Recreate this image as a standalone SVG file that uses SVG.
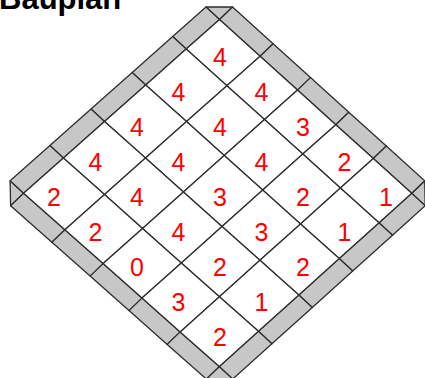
<svg xmlns="http://www.w3.org/2000/svg" width="425" height="378" viewBox="0 0 425 378">
<style>
.wall{fill:#c6c7c6;stroke:#2e2e2e;stroke-width:1.3;stroke-linejoin:round}
.cell polygon{fill:#ffffff;stroke:#2e2e2e;stroke-width:1.3;stroke-linejoin:round}
.cell text{font-family:"Liberation Sans",Arial,sans-serif;font-size:25px;fill:#ff0000;text-anchor:middle}
.title{font-family:"Liberation Sans",Arial,sans-serif;font-size:31px;font-weight:bold;fill:#000}
</style>
<rect width="425" height="378" fill="#ffffff"/>
<text class="title" x="-1" y="9">Bauplan</text>
<g id="walls">
<polygon class="wall" points="219.5,19.5 206,7 232.5,7"/>
<polygon class="wall" points="23.6,193.3 10.1,180.8 10.6,205.8"/>
<polygon class="wall" points="411.7,193.3 424.7,180.8 425.2,205.8"/>
<polygon class="wall" points="219.3,366.5 206.3,379 232.8,379"/>
<polygon class="wall" points="219.5,19.5 186.2,49.1 172.7,36.6 206,7"/>
<polygon class="wall" points="186.2,49.1 145.7,85.0 132.2,72.5 172.7,36.6"/>
<polygon class="wall" points="145.7,85.0 104.5,121.5 91,109 132.2,72.5"/>
<polygon class="wall" points="104.5,121.5 63.4,158.0 49.9,145.5 91,109"/>
<polygon class="wall" points="63.4,158.0 23.6,193.3 10.1,180.8 49.9,145.5"/>
<polygon class="wall" points="219.5,19.5 260.1,56.2 273.1,43.7 232.5,7"/>
<polygon class="wall" points="260.1,56.2 297.5,90.1 310.5,77.6 273.1,43.7"/>
<polygon class="wall" points="297.5,90.1 335.8,124.7 348.8,112.2 310.5,77.6"/>
<polygon class="wall" points="335.8,124.7 373.3,158.5 386.3,146 348.8,112.2"/>
<polygon class="wall" points="373.3,158.5 411.7,193.3 424.7,180.8 386.3,146"/>
<polygon class="wall" points="23.6,193.3 64.9,229.8 51.9,242.3 10.6,205.8"/>
<polygon class="wall" points="64.9,229.8 103.1,263.6 90.1,276.1 51.9,242.3"/>
<polygon class="wall" points="103.1,263.6 142.0,298.1 129,310.6 90.1,276.1"/>
<polygon class="wall" points="142.0,298.1 180.2,331.9 167.2,344.4 129,310.6"/>
<polygon class="wall" points="180.2,331.9 219.3,366.5 206.3,379 167.2,344.4"/>
<polygon class="wall" points="411.7,193.3 379.0,222.8 392.5,235.3 425.2,205.8"/>
<polygon class="wall" points="379.0,222.8 339.2,258.6 352.7,271.1 392.5,235.3"/>
<polygon class="wall" points="339.2,258.6 298.8,295.0 312.3,307.5 352.7,271.1"/>
<polygon class="wall" points="298.8,295.0 258.4,331.3 271.9,343.8 312.3,307.5"/>
<polygon class="wall" points="258.4,331.3 219.3,366.5 232.8,379 271.9,343.8"/>
</g>
<g id="cells">
<g id="cell-0-0" class="cell"><polygon points="219.5,19.5 260.1,56.2 226.9,85.7 186.2,49.1"/><text x="220" y="66">4</text></g>
<g id="cell-0-1" class="cell"><polygon points="260.1,56.2 297.5,90.1 264.5,119.6 226.9,85.7"/><text x="261.5" y="101">4</text></g>
<g id="cell-0-2" class="cell"><polygon points="297.5,90.1 335.8,124.7 302.8,154.1 264.5,119.6"/><text x="303" y="136">3</text></g>
<g id="cell-0-3" class="cell"><polygon points="335.8,124.7 373.3,158.5 340.4,188.0 302.8,154.1"/><text x="344.5" y="171">2</text></g>
<g id="cell-0-4" class="cell"><polygon points="373.3,158.5 411.7,193.3 379.0,222.8 340.4,188.0"/><text x="386" y="206">1</text></g>
<g id="cell-1-0" class="cell"><polygon points="186.2,49.1 226.9,85.7 186.5,121.6 145.7,85.0"/><text x="178.5" y="101">4</text></g>
<g id="cell-1-1" class="cell"><polygon points="226.9,85.7 264.5,119.6 224.2,155.5 186.5,121.6"/><text x="220" y="136">4</text></g>
<g id="cell-1-2" class="cell"><polygon points="264.5,119.6 302.8,154.1 262.7,190.0 224.2,155.5"/><text x="261.5" y="171">4</text></g>
<g id="cell-1-3" class="cell"><polygon points="302.8,154.1 340.4,188.0 300.5,223.9 262.7,190.0"/><text x="303" y="206">2</text></g>
<g id="cell-1-4" class="cell"><polygon points="340.4,188.0 379.0,222.8 339.2,258.6 300.5,223.9"/><text x="344.5" y="241">1</text></g>
<g id="cell-2-0" class="cell"><polygon points="145.7,85.0 186.5,121.6 145.5,158.1 104.5,121.5"/><text x="137" y="136">4</text></g>
<g id="cell-2-1" class="cell"><polygon points="186.5,121.6 224.2,155.5 183.4,191.9 145.5,158.1"/><text x="178.5" y="171">4</text></g>
<g id="cell-2-2" class="cell"><polygon points="224.2,155.5 262.7,190.0 222.0,226.5 183.4,191.9"/><text x="220" y="206">3</text></g>
<g id="cell-2-3" class="cell"><polygon points="262.7,190.0 300.5,223.9 259.9,260.3 222.0,226.5"/><text x="261.5" y="241">3</text></g>
<g id="cell-2-4" class="cell"><polygon points="300.5,223.9 339.2,258.6 298.8,295.0 259.9,260.3"/><text x="303" y="276">2</text></g>
<g id="cell-3-0" class="cell"><polygon points="104.5,121.5 145.5,158.1 104.5,194.6 63.4,158.0"/><text x="95.5" y="171">4</text></g>
<g id="cell-3-1" class="cell"><polygon points="145.5,158.1 183.4,191.9 142.5,228.4 104.5,194.6"/><text x="137" y="206">4</text></g>
<g id="cell-3-2" class="cell"><polygon points="183.4,191.9 222.0,226.5 181.3,262.9 142.5,228.4"/><text x="178.5" y="241">4</text></g>
<g id="cell-3-3" class="cell"><polygon points="222.0,226.5 259.9,260.3 219.4,296.7 181.3,262.9"/><text x="220" y="276">2</text></g>
<g id="cell-3-4" class="cell"><polygon points="259.9,260.3 298.8,295.0 258.4,331.3 219.4,296.7"/><text x="261.5" y="311">1</text></g>
<g id="cell-4-0" class="cell"><polygon points="63.4,158.0 104.5,194.6 64.9,229.8 23.6,193.3"/><text x="54" y="206">2</text></g>
<g id="cell-4-1" class="cell"><polygon points="104.5,194.6 142.5,228.4 103.1,263.6 64.9,229.8"/><text x="95.5" y="241">2</text></g>
<g id="cell-4-2" class="cell"><polygon points="142.5,228.4 181.3,262.9 142.0,298.1 103.1,263.6"/><text x="137" y="276">0</text></g>
<g id="cell-4-3" class="cell"><polygon points="181.3,262.9 219.4,296.7 180.2,331.9 142.0,298.1"/><text x="178.5" y="311">3</text></g>
<g id="cell-4-4" class="cell"><polygon points="219.4,296.7 258.4,331.3 219.3,366.5 180.2,331.9"/><text x="220" y="346">2</text></g>
</g>
</svg>
